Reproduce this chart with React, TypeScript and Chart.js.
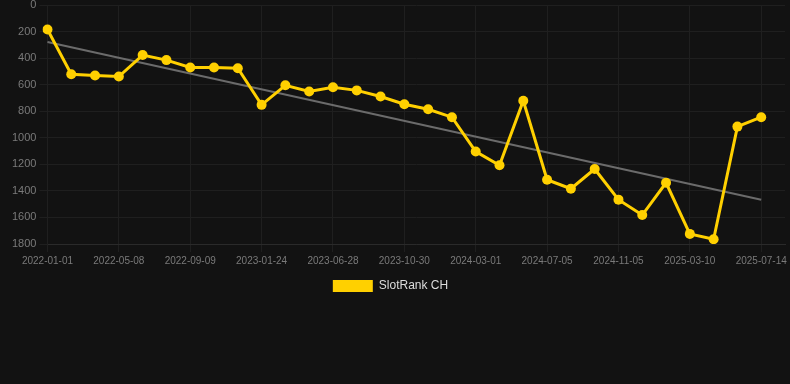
import React, { useEffect, useRef } from "react";
import { Chart, registerables } from "chart.js";

Chart.register(...registerables);

const dateLabels: string[] = [
  "2022-01-01", "2022-02-12", "2022-03-26", "2022-05-08", "2022-06-19", "2022-07-30",
  "2022-09-09", "2022-10-24", "2022-12-09", "2023-01-24", "2023-03-12", "2023-05-05",
  "2023-06-28", "2023-08-09", "2023-09-19", "2023-10-30", "2023-12-10", "2024-01-20",
  "2024-03-01", "2024-04-12", "2024-05-24", "2024-07-05", "2024-08-16", "2024-09-26",
  "2024-11-05", "2024-12-18", "2025-01-28", "2025-03-10", "2025-04-22", "2025-06-02",
  "2025-07-14", "2025-08-25",
];

const rankValues: (number | null)[] = [
  185, 522, 531, 539, 377, 415, 471, 471, 476, 752, 605, 651,
  620, 643, 689, 747, 785, 845, 1104, 1207, 721, 1316, 1384, 1235,
  1466, 1582, 1339, 1724, 1764, 916, 845, null,
];

const trendStart = 278;
const trendEnd = 1466;

const yTicks = [0, 200, 400, 600, 800, 1000, 1200, 1400, 1600, 1800];

const FONT = "Liberation Sans, Arial, sans-serif";

const legendShift = {
  id: "legendShift",
  afterLayout(chart: any) {
    if (chart.legend) {
      chart.legend.left -= 7;
      chart.legend.right -= 7;
    }
  },
};

export default function App() {
  const ref = useRef<HTMLCanvasElement | null>(null);

  useEffect(() => {
    document.body.style.margin = "0";
    document.body.style.background = "#121212";
    const trend: (number | null)[] = dateLabels.map(() => null);
    trend[0] = trendStart;
    trend[30] = trendEnd;
    const chart = new Chart(ref.current as HTMLCanvasElement, {
      type: "line",
      data: {
        labels: dateLabels,
        datasets: [
          {
            label: "SlotRank CH",
            data: rankValues,
            borderColor: "#FFD000",
            backgroundColor: "#FFD000",
            borderWidth: 3,
            pointRadius: 5,
            pointBackgroundColor: "#FFD000",
            pointBorderColor: "#FFD000",
            pointBorderWidth: 0,
            tension: 0,
          },
          {
            label: "trend",
            data: trend,
            borderColor: "#6b6b6b",
            borderWidth: 2,
            pointRadius: 0,
            spanGaps: true,
            tension: 0,
          },
        ],
      },
      plugins: [legendShift],
      options: {
        animation: false,
        responsive: false,
        maintainAspectRatio: false,
        layout: { padding: { left: 9, right: 4, top: 0, bottom: 82 } },
        plugins: {
          tooltip: { enabled: false },
          legend: {
            position: "bottom",
            labels: {
              boxWidth: 40,
              boxHeight: 12,
              color: "#dddddd",
              font: { family: FONT, size: 12 },
              generateLabels: (c: any) =>
                Chart.defaults.plugins.legend.labels
                  .generateLabels(c)
                  .filter((l: any) => l.text === "SlotRank CH")
                  .map((l: any) => ({ ...l, lineWidth: 0 })),
            },
          },
        },
        scales: {
          x: {
            type: "category",
            grid: { color: "#1f1f1f", tickLength: 8 },
            border: { color: "#2a2a2a" },
            ticks: {
              autoSkip: false,
              maxRotation: 0,
              color: "#7a7a7a",
              font: { family: FONT, size: 10 },
              callback: (_v: any, i: number) => (i % 3 === 0 && i <= 30 ? dateLabels[i] : null),
            },
          },
          y: {
            reverse: true,
            min: yTicks[0],
            max: yTicks[yTicks.length - 1],
            grid: { color: "#1f1f1f", tickLength: 8 },
            border: { color: "#1f1f1f" },
            afterFit: (s: any) => {
              s.paddingTop = 4;
            },
            ticks: {
              stepSize: 200,
              color: "#7a7a7a",
              font: { family: FONT, size: 11 },
              callback: (v: any) => String(v),
            },
          },
        },
      },
    });
    return () => chart.destroy();
  }, []);

  return (
    <div style={{ width: 790, height: 384, background: "#121212" }}>
      <canvas ref={ref} width={790} height={384} />
    </div>
  );
}
